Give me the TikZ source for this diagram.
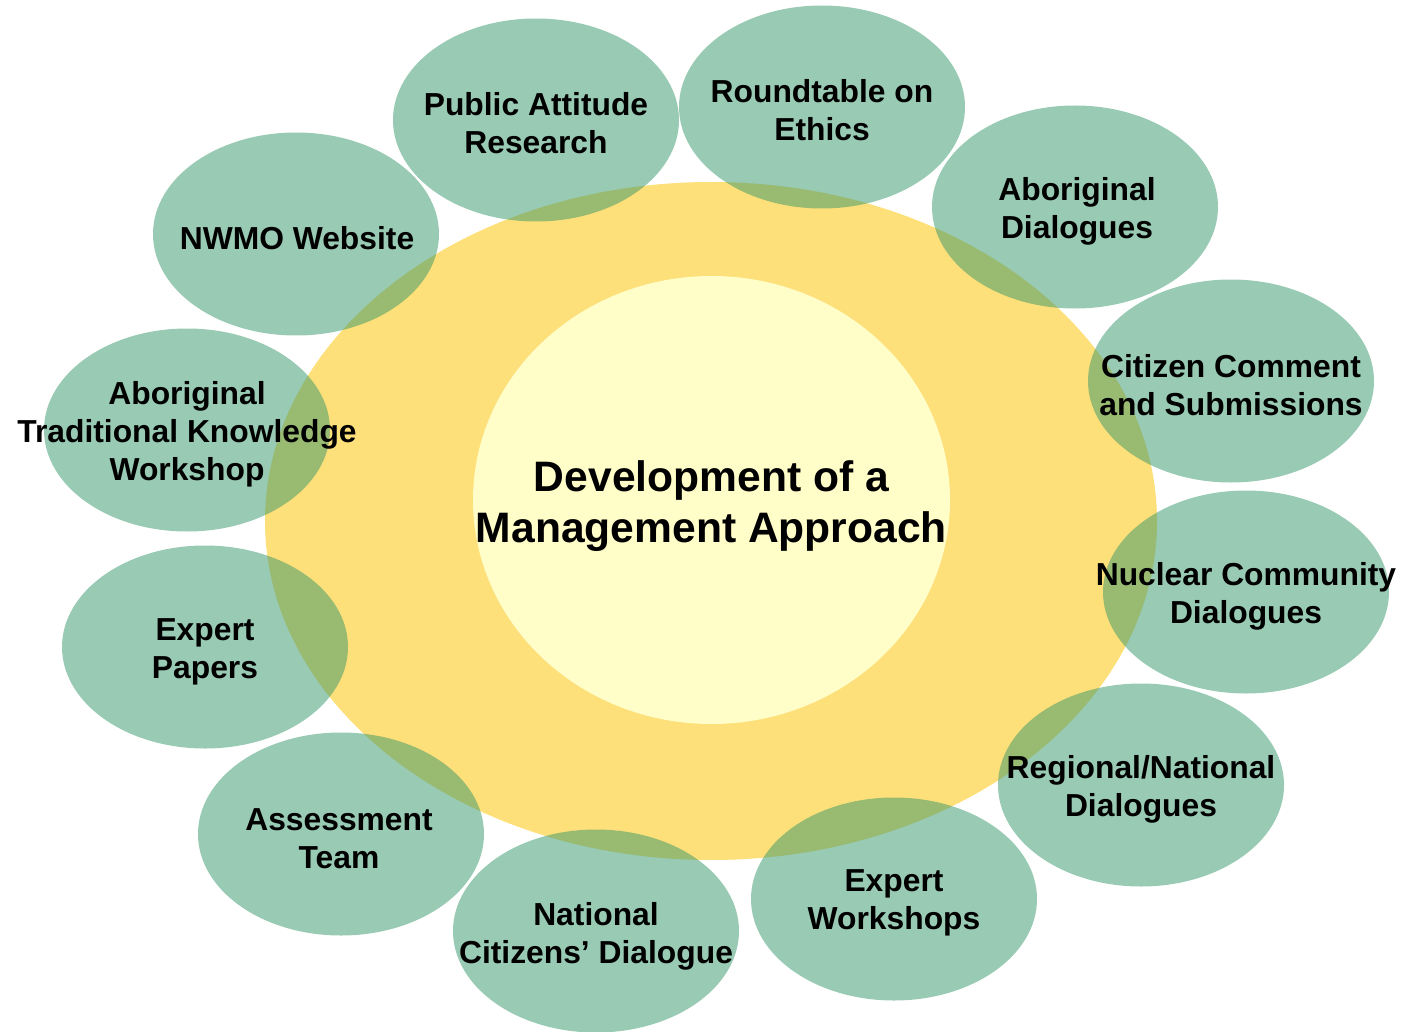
\documentclass[tikz,border=0pt]{standalone}
\usepackage{fontspec}
\setmainfont{Liberation Sans}
\definecolor{bigyellow}{RGB}{254,224,122}
\definecolor{paleyellow}{RGB}{255,253,200}
\definecolor{leafgreen}{RGB}{51,149,105}
\begin{document}
\begin{tikzpicture}[x=1pt,y=-1pt,
  bubblefill/.style={fill=leafgreen, fill opacity=0.5},
  label/.style={inner sep=0pt, align=center,
    font=\fontsize{31.8}{38}\selectfont\bfseries},
  core/.style={inner sep=0pt, align=center,
    font=\fontsize{42.6}{51}\selectfont\bfseries}]
\useasboundingbox (0,0) rectangle (1402,1032);
\fill[bigyellow] (711,521) ellipse [x radius=446, y radius=339];
\fill[paleyellow] (711.5,500) ellipse [x radius=238.5, y radius=224];
\foreach \cx/\cy in {536/120, 822/107, 1075/207, 1231/381, 1246/592, 1141/785,
  894/899, 596/931, 341/834, 205/647, 187/430, 296/234}
  \fill[bubblefill] (\cx,\cy) ellipse [x radius=143, y radius=101.5];
\node[core] (center) at (711.5,506) {Development of a\\Management Approach};
\node[label] (par) at (536,123) {Public Attitude\\Research};
\node[label] (rte) at (822,110) {Roundtable on\\Ethics};
\node[label] (abd) at (1077,211) {Aboriginal\\Dialogues};
\node[label] (ccs) at (1231,385) {Citizen Comment\\and Submissions};
\node[label] (ncd) at (1246,596) {Nuclear Community\\Dialogues};
\node[label] (rnd) at (1141,789) {Regional/National\\Dialogues};
\node[label] (exw) at (894,903) {Expert\\Workshops};
\node[label] (nac) at (596,936) {National\\Citizens’ Dialogue};
\node[label] (ast) at (339,839) {Assessment\\Team};
\node[label] (exp) at (205,652) {Expert\\Papers};
\node[label] (atk) at (187,434) {Aboriginal\\Traditional Knowledge\\Workshop};
\node[label] (web) at (297,238) {NWMO Website};
\end{tikzpicture}
\end{document}
